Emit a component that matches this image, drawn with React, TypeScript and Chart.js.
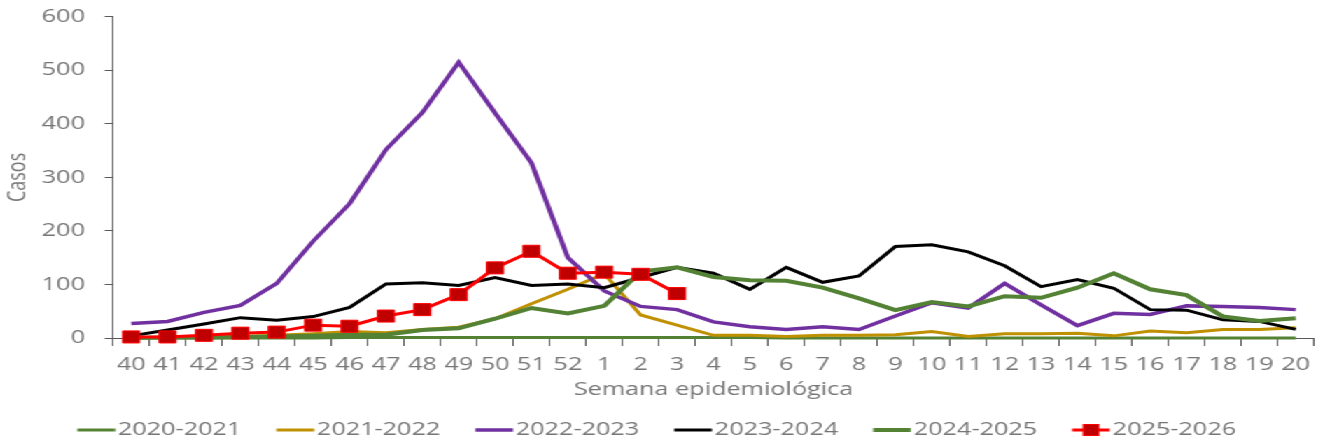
import React, { useEffect, useRef } from 'react';
import { Chart, registerables } from 'chart.js';

Chart.register(...registerables);

// ---- Data ----
const weeks = ['40','41','42','43','44','45','46','47','48','49','50','51','52','1','2','3','4','5','6','7','8','9','10','11','12','13','14','15','16','17','18','19','20'];
const yTicks = [0, 100, 200, 300, 400, 500, 600];

const s2020_2021 = [0,0,0,0,0,0,1,1,1,1,1,1,1,1,1,1,1,1,0,0,0,0,0,0,0,0,0,0,0,0,0,0,0];
const s2021_2022 = [1,1,2,3,5,8,12,10,16,20,36,64,91,120,43,24,5,5,3,5,5,6,12,3,8,8,9,4,13,10,16,16,19];
const s2022_2023 = [27,31,48,61,102,181,251,352,421,515,420,327,150,88,59,53,30,21,16,21,16,41,66,56,102,62,23,46,44,60,59,57,53];
const s2023_2024 = [4,15,26,38,33,40,57,101,103,98,113,98,101,94,113,132,121,91,132,104,116,171,174,161,135,96,109,93,53,52,34,31,16];
const s2024_2025 = [0,1,1,2,3,4,6,6,15,18,36,56,46,60,124,132,114,108,107,94,74,52,67,59,78,75,94,121,91,80,40,32,37];
const s2025_2026 = [2,2,5,9,11,24,22,41,53,81,131,162,121,123,119,83,null,null,null,null,null,null,null,null,null,null,null,null,null,null,null,null,null];

const seriesLabels = ['2020-2021','2021-2022','2022-2023','2023-2024','2024-2025','2025-2026'];
const seriesColors = ['#548235','#BF9000','#7030A0','#000000','#548235','#FF0000'];
const seriesWidths = [3, 3, 3.5, 3, 4, 3];
const seriesData = [s2020_2021, s2021_2022, s2022_2023, s2023_2024, s2024_2025, s2025_2026];

// ---- Layout constants ----
const SX = 1.4;
const W = 945;
const H = 444;
const FAMILY = "'Open Sans', 'Noto Sans', sans-serif";
const TEXT = '#767676';
const AXIS = '#595959';
const MARKER_FILL = '#C00000';
const MARKER_BORDER = '#FF0000';

function legendImage(color: string, width: number, marker: boolean) {
  const c = document.createElement('canvas');
  c.width = 40;
  c.height = 18;
  const ctx = c.getContext('2d')!;
  ctx.strokeStyle = color;
  ctx.lineWidth = width;
  ctx.beginPath();
  ctx.moveTo(12.5, 9);
  ctx.lineTo(39.5, 9);
  ctx.stroke();
  if (marker) {
    ctx.fillStyle = MARKER_FILL;
    ctx.fillRect(20, 3, 12, 12);
    ctx.strokeStyle = MARKER_BORDER;
    ctx.lineWidth = 1;
    ctx.strokeRect(20.5, 3.5, 11, 11);
  }
  return c;
}

export default function App() {
  const ref = useRef<HTMLCanvasElement | null>(null);

  useEffect(() => {
    if (!ref.current) return;
    const imgs = seriesLabels.map((_, i) => legendImage(seriesColors[i], seriesWidths[i], i === 5));
    const font = { family: FAMILY, size: 18 };

    const datasets = seriesLabels.map((label, i) => {
      const isRed = i === 5;
      return {
        label,
        data: seriesData[i],
        borderColor: seriesColors[i],
        backgroundColor: seriesColors[i],
        borderWidth: seriesWidths[i],
        tension: 0,
        fill: false,
        spanGaps: false,
        order: 5 - i,
        pointRadius: isRed ? 8.5 : 0,
        pointStyle: isRed ? 'rect' : 'circle',
        pointBackgroundColor: MARKER_FILL,
        pointBorderColor: MARKER_BORDER,
        pointBorderWidth: 1,
        clip: false as any,
      };
    });

    const chart = new Chart(ref.current, {
      type: 'line',
      data: { labels: weeks, datasets },
      options: {
        animation: false,
        responsive: false,
        maintainAspectRatio: false,
        layout: { autoPadding: false, padding: { left: -5.4, right: 6.4, top: 17, bottom: -13 } },
        plugins: {
          tooltip: { enabled: false },
          legend: {
            position: 'bottom',
            align: 'center',
            labels: {
              usePointStyle: true,
              pointStyleWidth: 25,
              boxHeight: 18,
              padding: 20,
              font,
              color: TEXT,
              generateLabels: (ch: any) =>
                ch.data.datasets.map((ds: any, i: number) => ({
                  text: ds.label,
                  fillStyle: 'rgba(0,0,0,0)',
                  strokeStyle: 'rgba(0,0,0,0)',
                  lineWidth: 0,
                  hidden: false,
                  datasetIndex: i,
                  pointStyle: imgs[i],
                  fontColor: TEXT,
                })),
            },
          },
        },
        scales: {
          x: {
            type: 'category',
            offset: true,
            grid: { display: true, drawOnChartArea: false, drawTicks: true, tickLength: 8, color: AXIS, offset: true },
            border: { display: true, color: AXIS, width: 1 },
            ticks: { color: TEXT, font, padding: 8, maxRotation: 0, minRotation: 0, autoSkip: false },
            title: { display: true, text: 'Semana epidemiológica', color: TEXT, font, padding: { top: 0, bottom: 0 } },
            afterFit: (s: any) => { s.height = 63; },
          },
          y: {
            min: 0,
            max: 600,
            afterBuildTicks: (s: any) => { s.ticks = yTicks.map((v) => ({ value: v })); },
            ticks: { color: TEXT, font, padding: 14 },
            grid: { display: true, drawOnChartArea: false, drawTicks: true, tickLength: 6, color: AXIS },
            border: { display: true, color: AXIS, width: 1 },
            title: { display: true, text: 'Casos', color: TEXT, font, padding: { top: 7.4, bottom: 0 } },
            afterFit: (s: any) => { s.width = 86.1; },
          },
        },
      } as any,
    });
    return () => chart.destroy();
  }, []);

  return (
    <div
      style={{
        position: 'absolute',
        left: 0,
        top: -8,
        width: W,
        height: H,
        transform: `scaleX(${SX})`,
        transformOrigin: '0 0',
        background: '#ffffff',
      }}
    >
      <canvas ref={ref} width={W} height={H} style={{ width: W, height: H, display: 'block' }} />
    </div>
  );
}
